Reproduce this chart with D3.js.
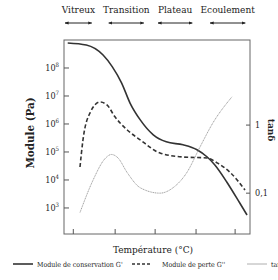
<!DOCTYPE html>
<html>
<head>
<meta charset="utf-8">
<script src="https://cdn.jsdelivr.net/npm/d3@7"></script>
<style>
  body { margin: 0; background: #fff; }
  svg text { font-family: "DejaVu Serif Condensed", "DejaVu Serif", serif; font-stretch: condensed; fill: #222; }
</style>
</head>
<body>
<div id="chart"></div>
<script>
// temperature in arbitrary units (0..100 across the frame)
const storageT = [2, 12, 21, 26, 31, 35.5, 41, 48, 55, 64, 71.5, 77, 81, 87.5, 94.5, 98.4];
const storageG = [7.8e8, 6.6e8, 2.9e8, 1.1e8, 2.9e7, 5.6e6, 1.4e6, 4.1e5, 2.3e5, 1.8e5, 1.2e5, 6.6e4, 3.5e4, 8.5e3, 1.5e3, 5.6e2];

const lossT = [8.6, 10.2, 14, 19.4, 23.1, 27.4, 34, 41, 51.6, 64, 77, 82.3, 89.2, 97.3];
const lossG = [2.9e4, 2.7e5, 2.5e6, 6.1e6, 4.8e6, 1.8e6, 6.1e5, 2.7e5, 9.2e4, 6.6e4, 6.1e4, 4.1e4, 1.9e4, 4.4e3];

const tanT = [8.6, 15.6, 22, 25.5, 29, 34, 41, 51.6, 58.6, 66, 73, 80, 90.3];
const tanD = [0.052, 0.155, 0.32, 0.37, 0.33, 0.20, 0.12, 0.10, 0.12, 0.20, 0.47, 1.07, 2.6];

const leftTicks = [3, 4, 5, 6, 7, 8];
const rightTicks = [0.1, 1];
const xTicks = [5, 27.5, 49, 71, 92];

const zones = ["Vitreux", "Transition", "Plateau", "Ecoulement"];
const zoneFrom = [0, 23.5, 50, 78];
const zoneTo = [15.5, 43.5, 69.5, 98];

const legendNames = ["Module de conservation G'", "Module de perte G''", "tan δ"];

const W = 278, H = 280;
const margin = { top: 40, right: 28, bottom: 46, left: 64 };
const width = W - margin.left - margin.right;
const height = H - margin.top - margin.bottom;

const svg = d3.select('#chart').append('svg')
    .attr('width', W).attr('height', H);

const defs = svg.append('defs');
defs.append('marker')
    .attr('id', 'arr').attr('viewBox', '0 0 10 10')
    .attr('refX', 9).attr('refY', 5)
    .attr('markerWidth', 4).attr('markerHeight', 4)
    .attr('orient', 'auto-start-reverse')
    .append('path').attr('d', 'M0,1L10,5L0,9Z').attr('fill', '#222');

const g = svg.append('g').attr('transform', `translate(${margin.left},${margin.top})`);

const x = d3.scaleLinear().domain([0, 100]).range([0, width]);
const y = d3.scaleLog().domain([Math.pow(10, 2.07), 1e9]).range([height, 0]);
const y2 = d3.scaleLog().domain([Math.pow(10, -1.6), Math.pow(10, 1.25)]).range([height, 0]);

// frame
g.append('rect').attr('width', width).attr('height', height)
    .attr('fill', 'none').attr('stroke', '#666').attr('stroke-width', 1);

// left ticks (inward)
g.selectAll('.lt').data(leftTicks).join('line')
    .attr('x1', 0).attr('x2', 5)
    .attr('y1', d => y(Math.pow(10, d))).attr('y2', d => y(Math.pow(10, d)))
    .attr('stroke', '#555');
const lt = g.selectAll('.ltl').data(leftTicks).join('text')
    .attr('x', -5).attr('y', d => y(Math.pow(10, d)) + 3)
    .attr('text-anchor', 'end').style('font-size', '9px');
lt.append('tspan').text('10');
lt.append('tspan').attr('dy', -4).style('font-size', '6px').text(d => d);

// right ticks (inward)
g.selectAll('.rt').data(rightTicks).join('line')
    .attr('x1', width - 4).attr('x2', width)
    .attr('y1', d => y2(d)).attr('y2', d => y2(d))
    .attr('stroke', '#555');
g.selectAll('.rtl').data(rightTicks).join('text')
    .attr('x', width + 5).attr('y', d => y2(d) + 3)
    .style('font-size', '9px')
    .text(d => d === 1 ? '1' : '0,1');

// bottom ticks (inward)
g.selectAll('.bt').data(xTicks).join('line')
    .attr('x1', d => x(d)).attr('x2', d => x(d))
    .attr('y1', height).attr('y2', height - 5)
    .attr('stroke', '#555');

// axis titles
g.append('text')
    .attr('transform', `translate(-30,${height / 2 - 4}) rotate(-90)`)
    .attr('text-anchor', 'middle').style('font-size', '11.5px').style('font-weight', 'bold')
    .text('Module (Pa)');
g.append('text')
    .attr('transform', `translate(${width + 18},${y2(1) + 5}) rotate(90)`)
    .attr('text-anchor', 'middle').style('font-size', '10px').style('font-weight', 'bold')
    .text('tanδ');
g.append('text')
    .attr('x', width / 2 - 4).attr('y', height + 19)
    .attr('text-anchor', 'middle').style('font-size', '10px')
    .text('Température (°C)');

// zones on top
zones.forEach((z, i) => {
    const a = x(zoneFrom[i]), b = x(zoneTo[i]);
    g.append('text')
        .attr('x', (a + b) / 2).attr('y', -27)
        .attr('text-anchor', 'middle').style('font-size', '10px')
        .text(z);
    g.append('line')
        .attr('x1', a + 1).attr('x2', b - 1).attr('y1', -17).attr('y2', -17)
        .attr('stroke', '#222').attr('stroke-width', 1)
        .attr('marker-start', 'url(#arr)').attr('marker-end', 'url(#arr)');
});

// curves
const lineG = d3.line().curve(d3.curveMonotoneX)
    .x(d => x(d[0])).y(d => y(d[1]));
const lineT = d3.line().curve(d3.curveMonotoneX)
    .x(d => x(d[0])).y(d => y2(d[1]));

g.append('path')
    .datum(d3.zip(storageT, storageG))
    .attr('fill', 'none').attr('stroke', '#333').attr('stroke-width', 1.6)
    .attr('d', lineG);

g.append('path')
    .datum(d3.zip(lossT, lossG))
    .attr('fill', 'none').attr('stroke', '#333').attr('stroke-width', 1.6)
    .attr('stroke-dasharray', '4,2.5')
    .attr('d', lineG);

g.append('path')
    .datum(d3.zip(tanT, tanD))
    .attr('fill', 'none').attr('stroke', '#999').attr('stroke-width', 0.9)
    .attr('stroke-dasharray', '1.2,0.6')
    .attr('d', lineT);

// legend
const legX = [13, 132, 247];
const legStyle = [
    { dash: null, w: 1.6, c: '#333' },
    { dash: '3,2', w: 1.6, c: '#333' },
    { dash: null, w: 0.8, c: '#999' }
];
const leg = svg.append('g');
legendNames.forEach((n, i) => {
    leg.append('line')
        .attr('x1', legX[i]).attr('x2', legX[i] + (i === 1 ? 18 : 20))
        .attr('y1', 264).attr('y2', 264)
        .attr('stroke', legStyle[i].c).attr('stroke-width', legStyle[i].w)
        .attr('stroke-dasharray', legStyle[i].dash);
    leg.append('text')
        .attr('x', legX[i] + (i === 1 ? 30 : 24)).attr('y', 267)
        .style('font-size', '7px')
        .text(n);
});
</script>
</body>
</html>
